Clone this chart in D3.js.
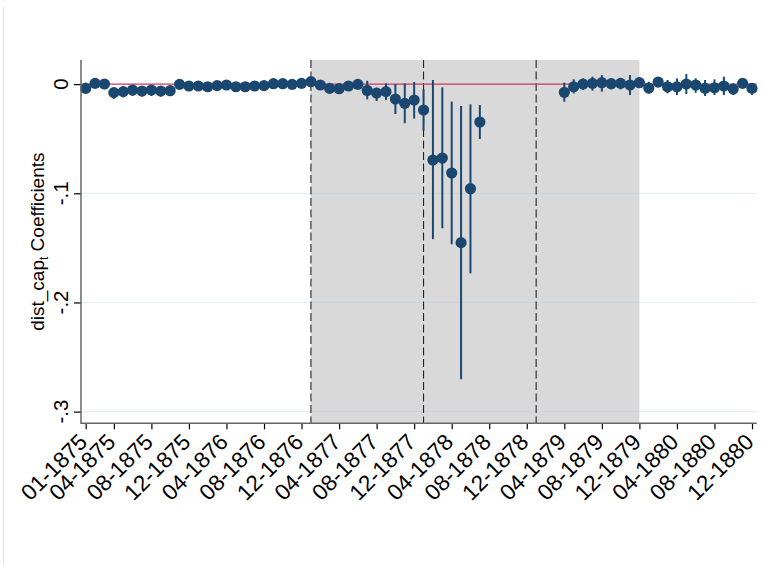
<!DOCTYPE html>
<html>
<head>
<meta charset="utf-8">
<script src="https://cdn.jsdelivr.net/npm/d3@7"></script>
<style>
  html, body { margin: 0; padding: 0; background: #ffffff; }
  svg { display: block; font-family: "Liberation Sans", Arial, Helvetica, sans-serif; }
</style>
</head>
<body>
<svg id="chart" width="762" height="566"></svg>
<script>
// Month tick labels (every fourth month, plus the first)
const tickMonths = [0, 3, 7, 11, 15, 19, 23, 27, 31, 35, 39, 43, 47, 51, 55, 59, 63, 67, 71];
const tickLabels = ["01-1875", "04-1875", "08-1875", "12-1875", "04-1876", "08-1876", "12-1876",
  "04-1877", "08-1877", "12-1877", "04-1878", "08-1878", "12-1878",
  "04-1879", "08-1879", "12-1879", "04-1880", "08-1880", "12-1880"];

// Monthly coefficient estimates, Jan 1875 (index 0) to Dec 1880 (index 71); null = not estimated
const coef = [
  -0.0039, 0.0007, 0.0001, -0.0078, -0.0069, -0.0054, -0.0063, -0.0054, -0.0063, -0.0060,
  -0.0002, -0.0017, -0.0017, -0.0024, -0.0014, -0.0008, -0.0024, -0.0024, -0.0017, -0.0014,
  0.0004, 0.0004, -0.0002, 0.0007, 0.0022, -0.0008, -0.0039, -0.0042, -0.0017, -0.0002,
  -0.0058, -0.0082, -0.0069, -0.0137, -0.0176, -0.0146, -0.0237, -0.0695, -0.0677, -0.0814,
  -0.1452, -0.0958, -0.0347, null, null, null, null, null, null, null,
  null, -0.0075, -0.0024, 0.0001, 0.0007, 0.0013, 0.0004, 0.0007, -0.0008, 0.0013,
  -0.0036, 0.0019, -0.0024, -0.0024, 0.0001, -0.0008, -0.0039, -0.0033, -0.0017, -0.0045,
  0.0007, -0.0039
];
// Lower and upper confidence bounds
const ciLow = [
  -0.0085, -0.0024, -0.0024, -0.0136, -0.0121, -0.0109, -0.0115, -0.0109, -0.0115, -0.0109,
  -0.0024, -0.0035, -0.0035, -0.0042, -0.0032, -0.0026, -0.0040, -0.0040, -0.0033, -0.0030,
  -0.0012, -0.0012, -0.0018, -0.0009, 0.0004, -0.0026, -0.0057, -0.0060, -0.0035, -0.0020,
  -0.0139, -0.0155, -0.0146, -0.0274, -0.0359, -0.0316, -0.0427, -0.1420, -0.1320, -0.1467,
  -0.2703, -0.1733, -0.0503, null, null, null, null, null, null, null,
  null, -0.0161, -0.0085, -0.0054, -0.0060, -0.0069, -0.0048, -0.0048, -0.0100, -0.0030,
  -0.0085, -0.0017, -0.0085, -0.0100, -0.0091, -0.0079, -0.0109, -0.0100, -0.0100, -0.0100,
  -0.0024, -0.0100
];
const ciHigh = [
  0.0013, 0.0031, 0.0022, -0.0030, -0.0024, -0.0008, -0.0018, -0.0008, -0.0018, -0.0018,
  0.0013, 0.0001, 0.0001, -0.0006, 0.0004, 0.0010, -0.0008, -0.0008, -0.0001, 0.0002,
  0.0020, 0.0020, 0.0014, 0.0023, 0.0040, 0.0010, -0.0021, -0.0024, 0.0001, 0.0016,
  0.0031, -0.0033, 0.0007, 0.0001, 0.0007, 0.0019, -0.0048, 0.0038, -0.0030, -0.0160,
  -0.0200, -0.0185, -0.0191, null, null, null, null, null, null, null,
  null, 0.0013, 0.0044, 0.0053, 0.0068, 0.0083, 0.0053, 0.0053, 0.0083, 0.0053,
  0.0022, 0.0053, 0.0038, 0.0053, 0.0092, 0.0053, 0.0038, 0.0044, 0.0068, 0.0007,
  0.0031, 0.0007
];

// Y axis ticks
const yTicks = [0, -0.1, -0.2, -0.3];
const yTickLabels = ["0", "-.1", "-.2", "-.3"];

// Shaded period and event markers (month indices)
const shadeStart = 24, shadeEnd = 59;
const eventMonths = [24, 36, 48];

const navy = "#1a476f";

const svg = d3.select("#chart");

// Plot region
const plotL = 81, plotR = 756.7, plotT = 60, plotB = 423.3;

const x = d3.scaleLinear().domain([-0.5, 71.5]).range([plotL, plotR]);
const y = d3.scaleLinear().domain([-0.3107, 0.0221]).range([plotB, plotT]);

// Faint outer frame edge
svg.append("line")
  .attr("x1", 3.5).attr("x2", 3.5).attr("y1", 6).attr("y2", 565)
  .attr("stroke", "#e4e4e4").attr("stroke-width", 1);

// Shaded period
svg.append("rect")
  .attr("x", x(shadeStart)).attr("y", plotT)
  .attr("width", x(shadeEnd) - x(shadeStart)).attr("height", plotB - plotT)
  .attr("fill", "#d9d9d9");

// Horizontal grid lines
svg.append("g").selectAll("line")
  .data(yTicks.slice(1))
  .join("line")
  .attr("x1", plotL).attr("x2", plotR)
  .attr("y1", d => y(d)).attr("y2", d => y(d))
  .attr("stroke", "rgba(175,205,210,0.32)")
  .attr("stroke-width", 1.2);

// Event lines
svg.append("g").selectAll("line")
  .data(eventMonths)
  .join("line")
  .attr("x1", d => x(d)).attr("x2", d => x(d))
  .attr("y1", plotT).attr("y2", plotB)
  .attr("stroke", "#222")
  .attr("stroke-width", 1.1)
  .attr("stroke-dasharray", "8,3.5");

// Zero reference line
svg.append("line")
  .attr("x1", plotL).attr("x2", plotR)
  .attr("y1", y(0)).attr("y2", y(0))
  .attr("stroke", "#c8385f")
  .attr("stroke-width", 1.3);

const idx = d3.range(coef.length).filter(i => coef[i] !== null);

// Confidence intervals
svg.append("g").selectAll("line")
  .data(idx)
  .join("line")
  .attr("x1", i => x(i)).attr("x2", i => x(i))
  .attr("y1", i => y(ciLow[i])).attr("y2", i => y(ciHigh[i]))
  .attr("stroke", navy)
  .attr("stroke-width", 2);

// Point estimates
svg.append("g").selectAll("circle")
  .data(idx)
  .join("circle")
  .attr("cx", i => x(i)).attr("cy", i => y(coef[i]))
  .attr("r", 5.6)
  .attr("fill", navy);

// Axes
const yAxis = d3.axisLeft(y).tickValues(yTicks).tickSize(7).tickFormat("");
const gy = svg.append("g").attr("transform", `translate(${plotL},0)`).call(yAxis);
gy.select(".domain").remove();
gy.selectAll(".tick line").attr("stroke", "#000").attr("stroke-width", 1.2);

const xAxis = d3.axisBottom(x).tickValues(tickMonths).tickSize(6).tickFormat("");
const gx = svg.append("g").attr("transform", `translate(0,${plotB})`).call(xAxis);
gx.select(".domain").remove();
gx.selectAll(".tick line").attr("stroke", "#000").attr("stroke-width", 1.2);

// Axis lines
svg.append("line").attr("x1", plotL).attr("x2", plotL).attr("y1", plotT).attr("y2", plotB + 0.7)
  .attr("stroke", "#666").attr("stroke-width", 1.5);
svg.append("line").attr("x1", plotL).attr("x2", plotR).attr("y1", plotB).attr("y2", plotB)
  .attr("stroke", "#666").attr("stroke-width", 1.5);

// Y tick labels (vertical)
svg.append("g").selectAll("text")
  .data(yTicks)
  .join("text")
  .attr("transform", d => `translate(67.5,${y(d)}) rotate(-90)`)
  .attr("text-anchor", "middle")
  .attr("font-size", 20.5)
  .attr("fill", "#000")
  .text((d, k) => yTickLabels[k]);

// X tick labels (diagonal)
svg.append("g").selectAll("text")
  .data(tickMonths)
  .join("text")
  .attr("transform", d => `translate(${x(d) + 3},${plotB + 20}) rotate(-45)`)
  .attr("text-anchor", "end")
  .attr("font-size", 22.5)
  .attr("fill", "#000")
  .text((d, k) => tickLabels[k]);

// Y axis title
const title = svg.append("text")
  .attr("transform", `translate(44,${(plotT + plotB) / 2}) rotate(-90)`)
  .attr("text-anchor", "middle")
  .attr("font-size", 19)
  .attr("fill", "#000");
title.append("tspan").text("dist_cap");
title.append("tspan").attr("font-size", 12).attr("dy", 4).text("t");
title.append("tspan").attr("dy", -4).text(" Coefficients");
</script>
</body>
</html>
